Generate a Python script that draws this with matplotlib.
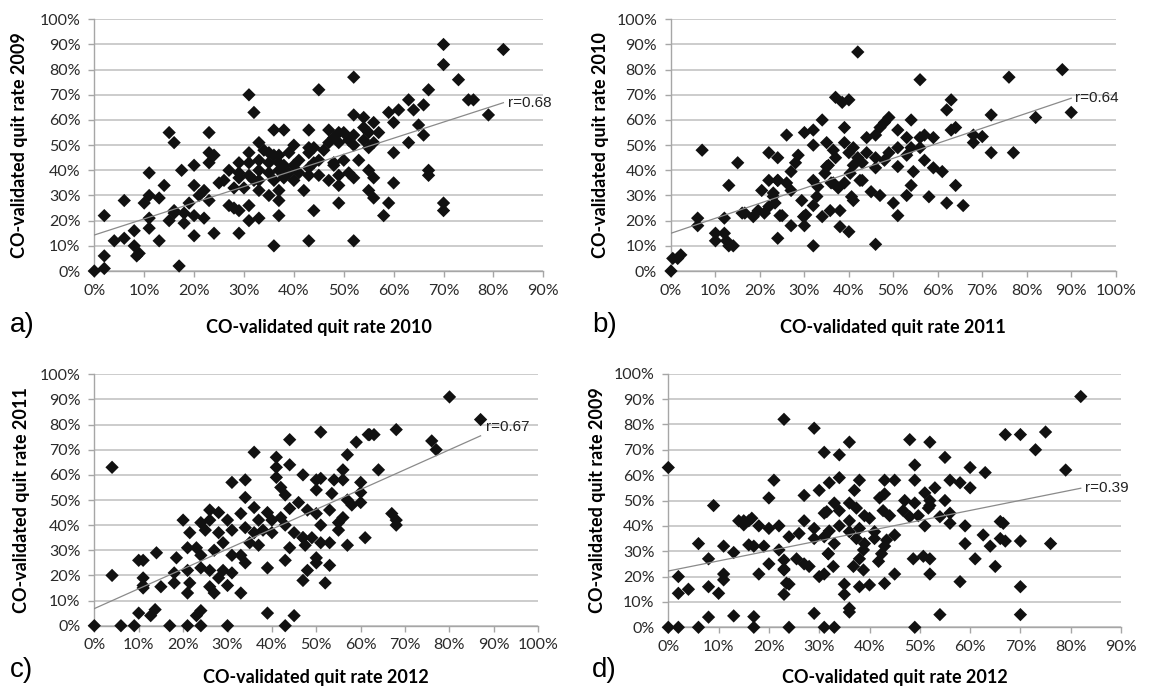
import matplotlib
matplotlib.use("Agg")
import matplotlib.pyplot as plt
from matplotlib.ticker import MultipleLocator, FuncFormatter

# ---- data (percent) ----
# a) quit rate 2010 (x) vs 2009 (y)
a_x = [0, 2, 2, 2, 4, 6, 6, 8, 8, 8.5, 9, 10, 11, 11, 11, 11, 13, 13, 14, 15,
       16, 15, 16, 17, 16, 36,
       31, 32, 45, 23, 36, 38, 43, 47, 52, 54, 56, 59, 61, 63, 64, 60, 57, 55, 54, 52,
       50, 49, 48, 49, 51, 52, 54, 55, 56, 63, 60, 47, 46, 44, 43, 43, 41, 40, 39, 37,
       36, 35, 33, 34, 31, 29, 31, 33, 35, 37, 38, 40, 43, 44, 45, 48, 50, 53, 27, 33,
       35, 37, 39, 41, 43, 45, 48, 49, 51, 52, 55, 56, 60, 29, 31, 32, 33, 36, 38, 40,
       25, 26, 29, 28, 30, 33, 37, 42, 47, 49, 55, 56, 59, 20, 22, 21, 19, 23, 20, 17.5,
       23, 24, 23, 27, 28, 31, 35, 37, 37, 33, 31, 29, 22, 20, 18, 18, 44, 49, 58, 20,
       24, 29, 43, 52,
       70, 70, 82, 73, 75, 76, 79, 67, 66, 65, 66, 67, 67, 70, 70, 52]
a_y = [0, 1, 6, 22, 12, 28, 13, 16, 10, 6, 7, 27, 39, 30, 21, 17, 29, 12, 34, 55,
       51, 20, 23, 2, 24, 10,
       70, 63, 72, 55, 56, 56, 56, 56, 62, 61, 59, 63, 64, 68, 64, 59, 55, 55, 57, 54,
       55, 55, 53, 51, 52, 50, 52, 49, 51, 51, 47, 51, 48, 49, 49, 47, 44, 50, 47, 46,
       46, 47, 51, 48, 47, 43, 43, 44, 43, 43, 42, 42, 41, 43, 44, 43, 44, 44, 40, 40,
       39, 40, 39, 39, 38, 38, 42, 38, 39, 37, 40, 37, 35, 39, 38, 36, 36, 36, 37, 36,
       35, 36, 37, 33, 33, 32, 32, 32, 36, 34, 32, 29, 27, 34, 32, 30, 27, 28, 42, 40,
       47, 46, 43, 26, 25, 26, 30, 28, 22, 21, 20, 24, 21, 22, 23, 19, 24, 27, 22, 14,
       15, 15, 12, 12,
       90, 82, 88, 76, 68, 68, 62, 72, 66, 58, 54, 40, 38, 27, 24, 77]

# b) quit rate 2011 (x) vs 2010 (y)
b_x = [0, 0.4, 1.5, 2.2, 6, 6, 7, 10, 10, 12, 12, 12.5, 13, 13, 14, 15, 16, 42,
       56, 37, 38.5, 40, 63, 62, 34, 26, 30, 32, 39, 32, 35, 36.5, 39, 41, 44, 46, 48, 49,
       47, 51, 54, 53, 56, 57, 59, 63, 64, 22, 24, 28.6, 28, 27, 35, 37, 40, 42, 44, 46,
       49, 51, 53, 56, 54, 41, 43, 46, 48, 51, 54.5, 57, 59, 61, 22, 24, 20.4, 23, 26, 27,
       32, 33, 36, 37.6, 39, 40.6, 43, 45, 47, 50, 53, 54, 58, 62, 64, 65.7, 18.5, 19.6, 22, 23.4,
       24.5, 27, 29.8, 30, 32, 34, 35.8, 38, 38, 40, 51, 24, 32, 46, 16.6,
       23, 24, 29.4, 32.8, 34.6, 36.5, 40.3, 41, 42.5, 35.4, 30.3, 21, 25,
       76, 88, 90, 82, 72, 68, 70, 68, 72, 77]
b_y = [0, 5, 5, 6.4, 21, 18, 48, 12, 15, 21, 15, 12, 34, 10, 10, 43, 23, 87,
       76, 69, 67, 68, 68, 64, 60, 54, 55, 56, 57, 50, 51, 48, 51, 49, 53, 54, 59, 61,
       57, 56, 60, 53, 53, 54, 53, 56, 57, 47, 45, 46, 43, 39.5, 41.5, 45, 47, 45, 47, 45,
       47, 49, 46, 49, 49, 42, 43, 41, 44, 41.5, 39.5, 44, 41, 39.5, 36, 36, 32, 31, 35, 32,
       36, 33.5, 35, 33, 35, 29.5, 36, 31.5, 30, 27, 30, 34, 29.5, 27, 34, 26, 21.6, 24, 25.6, 27,
       22, 18, 21.6, 18, 26, 21.6, 24, 24, 17.6, 15.6, 22, 13, 10, 10.6, 23,
       29.6, 36, 28, 29.6, 38.8, 35, 38.8, 28, 36, 42, 22.3, 23, 22,
       77, 80, 63, 61, 62, 54, 53.4, 51, 47, 47]

# c) quit rate 2012 (x) vs 2011 (y)
c_x = [0, 4, 4, 6, 9, 10, 10, 11, 11, 12.7, 13.7, 17, 21, 23, 24, 24, 30, 39, 43, 45,
       44, 51, 59, 61.7, 57, 36, 41, 41, 44, 47, 56, 31, 34, 41, 50, 51, 54, 56, 60, 60,
       60, 42, 43, 50, 53.5, 57, 34, 36, 26, 28, 20, 24, 26, 30, 33, 37, 39, 40, 42, 44,
       46, 48, 50, 53, 56, 58, 21.5, 25, 28, 31, 34, 36, 38, 40, 43, 45, 47, 51, 55, 55,
       21, 18.5, 23, 24, 27, 29, 31, 35, 37, 33, 34, 39, 43, 44, 47, 47.5, 49, 51, 53, 57,
       61, 50, 50, 53, 48, 47, 52, 14, 18, 18, 21, 21.5, 21, 26, 28, 26, 27, 30, 31, 33,
       11, 15, 11, 24, 29,
       80, 87, 68, 62, 63, 76, 77, 64, 67, 68, 68]
c_y = [0, 63, 20, 0, 0, 26, 5, 19, 15, 4, 6.4, 0, 0, 4, 0, 6, 0, 5, 0, 4,
       74, 77, 73, 76, 68, 69, 67, 63, 64, 60, 62, 57, 58, 59, 58, 58.6, 58, 58, 57, 53,
       49, 55, 52, 54, 52.6, 50, 51, 47, 46, 45, 42, 41, 42, 42, 44.6, 42, 45, 42, 43, 46.6,
       49, 46, 44.6, 46, 43, 48, 37, 38, 37, 38, 39, 37, 38, 37, 40, 37, 35, 40, 38, 41,
       31, 27, 31, 28, 30, 33, 28, 33, 32, 28, 25, 23, 26, 31, 35, 32, 35, 33, 33, 32,
       35, 27, 25, 24, 22, 18, 17, 29, 21, 17, 22, 17, 13, 22, 19, 15.5, 13, 16, 21, 13,
       16, 15.5, 26, 23, 22,
       91, 82, 78, 76, 76, 73.5, 70, 62, 44.6, 42, 40]

# d) quit rate 2012 (x) vs 2009 (y)
d_x = [0, 0, 2, 2, 2, 4, 6, 6, 8, 8, 8, 9, 10, 11, 11, 11, 13, 13, 14, 15,
       16, 15, 16, 17, 17, 23, 24, 29, 29, 31, 33, 36, 36, 27, 31, 31.8, 23, 23.5,
       31, 34, 55, 49, 60, 63, 21, 32, 34, 38, 43, 45, 49, 56, 58, 60, 30, 37, 53, 20,
       27, 42, 43, 47, 49, 51, 52, 55, 33, 36, 31.5, 34, 37.4, 39, 40, 42.7, 44, 46.7, 48, 49.7,
       51.7, 54, 56, 56, 51, 59, 62.6, 16.6, 18, 20, 22, 24, 26, 29, 29, 32, 34, 36, 38, 36,
       33, 31, 37.4, 39, 41, 41, 43.4, 45, 43, 42.4, 41.8, 38.8, 38, 36.8, 31.8, 32.8, 31, 30, 27, 25.5,
       28, 23, 23, 22, 20, 17, 19, 18, 24, 23, 35, 35, 38, 40, 43, 45, 48.7, 50.7, 52, 52,
       58, 59, 61, 36,
       82, 67, 70, 75, 73, 79, 48, 52, 66, 66.6, 64, 66, 67, 70, 76, 65, 70, 70, 54, 49,
       52, 38.8]
d_y = [63, 0, 0, 20, 13.4, 15, 0, 33, 27, 16, 4, 48, 13.4, 32, 21, 18.7, 29.5, 4.5, 42, 42,
       42, 40.4, 32.5, 4.2, 0, 82, 0, 78.5, 5.5, 0, 0, 73, 6, 42, 45, 29, 22.6, 17.4,
       69, 68, 67, 64, 63, 61, 58, 57, 59, 58, 58, 58, 58, 58, 57, 55, 54, 54, 55, 51,
       52, 51, 52.6, 50, 49, 53, 50, 50, 49, 49, 45.6, 46, 47, 44, 43, 46, 44, 46, 43.6, 44,
       47, 43.6, 45, 41, 40, 40, 36.4, 43, 40, 39, 40, 35.7, 37, 39, 35, 38, 40, 42, 39, 37.7,
       33, 35.7, 35, 33, 37.7, 35, 34.4, 36.4, 32, 29, 26, 30.5, 27, 24, 29, 24, 21, 20, 25, 27,
       24, 26.5, 23, 30.5, 25, 32, 32, 21, 17, 13, 17, 13, 16, 16.7, 17.3, 21, 27, 28, 27, 21,
       18, 33, 27, 7.5,
       91, 76, 76, 77, 70, 62, 74, 73, 41.7, 41, 32, 35, 34, 34, 33, 24, 16, 5, 5, 0,
       48, 22.6]

x_labels = ["CO-validated quit rate 2010", "CO-validated quit rate 2011",
            "CO-validated quit rate 2012", "CO-validated quit rate 2012"]
y_labels = ["CO-validated quit rate 2009", "CO-validated quit rate 2010",
            "CO-validated quit rate 2011", "CO-validated quit rate 2009"]
letters = ["a)", "b)", "c)", "d)"]
x_max = [90, 100, 100, 90]
r_values = ["0.68", "0.64", "0.67", "0.39"]
# trendline: intercept (%) and slope
trend_icpt = [14.3, 15.0, 6.8, 22.2]
trend_slope = [0.641, 0.596, 0.790, 0.398]

# ---- layout, in pixels of the 1149x687 picture ----
W, H = 1149, 687
boxes = [(94.3, 19.3, 543.3, 271), (671, 19.3, 1115.7, 271),
         (94.3, 374.3, 538.3, 625.7), (668.3, 373.7, 1121, 627.3)]
ylab_x = [20, 600, 22, 598]
xlab_y = [328, 328, 678, 678]
letter_pos = [(10, 325), (592, 325), (10, 670), (592, 670)]
r_offset = [(3, 0), (3, 0), (4, 6), (3, 0)]

tick_font = "Lato"
text_font = "Liberation Sans"

fig = plt.figure(figsize=(W / 100, H / 100), dpi=100)
pct = FuncFormatter(lambda v, p: f"{v:.0f}%")

series = [(a_x, a_y), (b_x, b_y), (c_x, c_y), (d_x, d_y)]
for i, (xs, ys) in enumerate(series):
    l, t, r, b = boxes[i]
    ax = fig.add_axes([l / W, 1 - b / H, (r - l) / W, (b - t) / H])
    ax.set_xlim(0, x_max[i])
    ax.set_ylim(0, 100)
    ax.xaxis.set_major_locator(MultipleLocator(10))
    ax.yaxis.set_major_locator(MultipleLocator(10))
    ax.xaxis.set_major_formatter(pct)
    ax.yaxis.set_major_formatter(pct)
    ax.yaxis.grid(True, color="#c4c4c4", lw=1.2)
    ax.set_axisbelow(True)
    for s in ["top", "right"]:
        ax.spines[s].set_visible(False)
    for s in ["left", "bottom"]:
        ax.spines[s].set_color("#a6a6a6")
        ax.spines[s].set_linewidth(1.0)
    ax.tick_params(direction="out", length=4, width=1, color="#a6a6a6",
                   labelsize=11.5, labelcolor="#2a2a2a")
    ax.tick_params(axis="x", pad=5)
    ax.tick_params(axis="y", pad=6)
    for lab in ax.get_xticklabels() + ax.get_yticklabels():
        lab.set_family(tick_font)

    ax.scatter(xs, ys, marker="D", s=46, c="#111111", edgecolors="none",
               clip_on=False, zorder=3)

    # linear trendline over the data range
    xe = max(xs)
    ye = trend_icpt[i] + trend_slope[i] * xe
    ax.plot([0, xe], [trend_icpt[i], ye], color="#8a8a8a", lw=0.9, zorder=4)
    ax.annotate(f"r={r_values[i]}", xy=(xe, ye), xytext=r_offset[i],
                textcoords="offset points", ha="left", va="center",
                fontsize=11, family=text_font, color="#222222",
                annotation_clip=False)

    # axis titles and panel letter
    fig.text((l + r) / 2 / W, 1 - xlab_y[i] / H, x_labels[i], ha="center",
             va="center", fontsize=13, fontweight="bold", family=tick_font)
    fig.text(ylab_x[i] / W, 1 - (t + b) / 2 / H, y_labels[i], ha="center",
             va="center", rotation=90, fontsize=13, fontweight="bold",
             family=tick_font)
    lx, ly = letter_pos[i]
    fig.text(lx / W, 1 - ly / H, letters[i], ha="left", va="center",
             fontsize=20, family=text_font)

fig.savefig("out.png", dpi=100, facecolor="white")
